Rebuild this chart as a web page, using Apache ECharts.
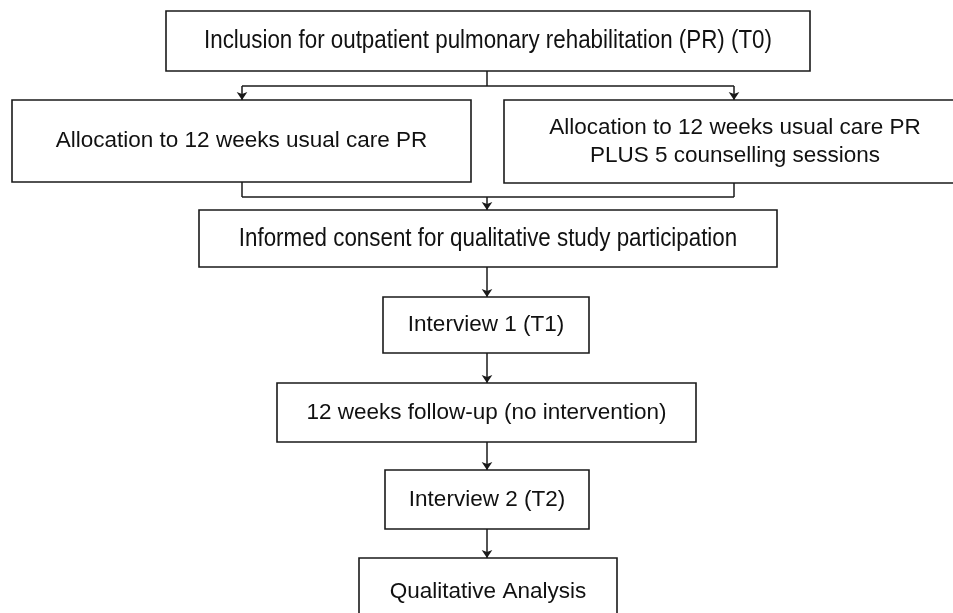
<!DOCTYPE html>
<html>
<head>
<meta charset="utf-8">
<style>
  html, body { margin: 0; padding: 0; background: #fff; }
  #chart { width: 953px; height: 613px; }
</style>
<script src="https://cdn.jsdelivr.net/npm/echarts@6/dist/echarts.min.js"></script>
</head>
<body>
<div id="chart"></div>
<script>
// flowchart steps, top to bottom
const steps = [
  'Inclusion for outpatient pulmonary rehabilitation (PR) (T0)',
  'Allocation to 12 weeks usual care PR',
  'Allocation to 12 weeks usual care PR\nPLUS 5 counselling sessions',
  'Informed consent for qualitative study participation',
  'Interview 1 (T1)',
  '12 weeks follow-up (no intervention)',
  'Interview 2 (T2)',
  'Qualitative Analysis'
];
// steps set in a condensed face (no narrow font installed, so squeeze it)
const narrowSteps = [0, 3];

// box frames [left, top, right, bottom], page pixels
const boxFrames = [
  [166, 11, 810, 71],
  [12, 100, 471, 182],
  [504, 100, 966, 183],
  [199, 210, 777, 267],
  [383, 297, 589, 353],
  [277, 383, 696, 442],
  [385, 470, 589, 529],
  [359, 558, 617, 626]
];

// connector segments without / with an arrow head
const joinLines = [
  [[487, 71], [487, 86]],
  [[242, 86], [734, 86]],
  [[242, 182], [242, 197]],
  [[734, 183], [734, 197]],
  [[242, 197], [734, 197]]
];
const arrowLines = [
  [[242, 86], [242, 100]],
  [[734, 86], [734, 100]],
  [[487, 197], [487, 210]],
  [[487, 267], [487, 297]],
  [[487, 353], [487, 383]],
  [[487, 442], [487, 470]],
  [[487, 529], [487, 558]]
];

const ink = '#1a1a1a';

function renderBox(params, api) {
  const i = params.dataIndex;
  const p0 = api.coord([api.value(0), api.value(1)]);
  const p1 = api.coord([api.value(2), api.value(3)]);
  const narrow = narrowSteps.indexOf(i) >= 0;
  return {
    type: 'group',
    children: [
      {
        type: 'rect',
        shape: { x: p0[0], y: p0[1], width: p1[0] - p0[0], height: p1[1] - p0[1] },
        style: { fill: '#fff', stroke: ink, lineWidth: 1.6 }
      },
      {
        type: 'text',
        x: (p0[0] + p1[0]) / 2,
        y: (p0[1] + p1[1]) / 2,
        scaleX: narrow ? 0.86 : 1,
        style: {
          text: steps[i],
          fontSize: narrow ? 26 : 22.5,
          fontFamily: "'Liberation Sans', Arial, sans-serif",
          fill: '#111',
          align: 'center',
          verticalAlign: 'middle',
          lineHeight: 28
        }
      }
    ]
  };
}

const chart = echarts.init(document.getElementById('chart'));
chart.setOption({
  animation: false,
  backgroundColor: '#fff',
  grid: { left: 0, right: 0, top: 0, bottom: 0 },
  xAxis: { type: 'value', min: 0, max: 953, show: false },
  yAxis: { type: 'value', min: 0, max: 613, inverse: true, show: false },
  series: [
    {
      type: 'lines',
      coordinateSystem: 'cartesian2d',
      silent: true,
      symbol: 'none',
      lineStyle: { color: ink, width: 1.5, opacity: 1 },
      data: joinLines.map(c => ({ coords: c })),
      z: 1
    },
    {
      type: 'lines',
      coordinateSystem: 'cartesian2d',
      silent: true,
      symbol: ['none', 'arrow'],
      symbolSize: 8,
      lineStyle: { color: ink, width: 1.5, opacity: 1 },
      data: arrowLines.map(c => ({ coords: c })),
      z: 1
    },
    {
      type: 'custom',
      coordinateSystem: 'cartesian2d',
      silent: true,
      renderItem: renderBox,
      data: boxFrames,
      z: 2
    }
  ]
});
</script>
</body>
</html>
